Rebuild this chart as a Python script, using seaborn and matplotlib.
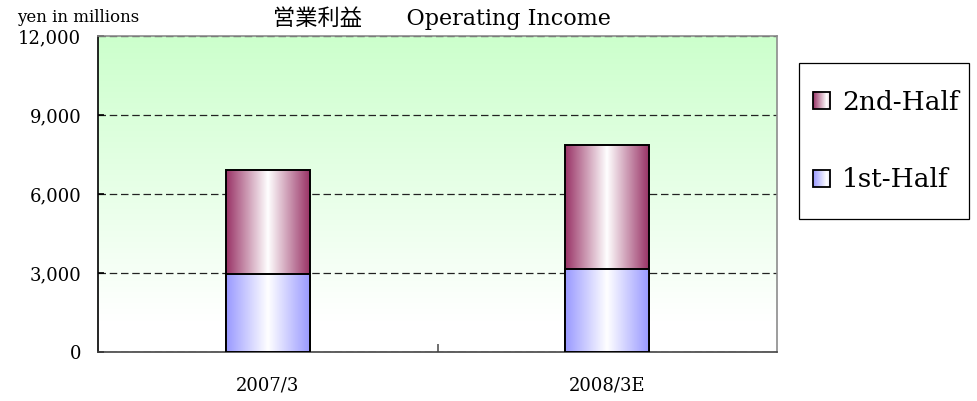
import numpy as np
import pandas as pd
import matplotlib
matplotlib.use("Agg")
import matplotlib.pyplot as plt
import seaborn as sns
from matplotlib.patches import Rectangle
from matplotlib.image import BboxImage
from matplotlib.transforms import Bbox, TransformedBbox
from matplotlib.legend_handler import HandlerBase
from matplotlib.colors import to_rgb
from matplotlib.ticker import FuncFormatter

# data
categories = ["2007/3", "2008/3E"]
first_half = [2950, 3150]
second_half = [3950, 4700]
series_labels = ["1st-Half", "2nd-Half"]
yticks = [0, 3000, 6000, 9000, 12000]

c_first = "#9999ff"
c_second = "#993366"

sns.set_theme(style="white")
plt.rcParams["font.family"] = ["DejaVu Serif", "Noto Sans CJK JP"]
plt.rcParams["text.color"] = "black"
plt.rcParams["xtick.color"] = "black"
plt.rcParams["ytick.color"] = "black"


def grad_row(color, t):
    # dark at the edges, white in the middle (horizontal "from center" fill)
    w = np.abs(2 * t - 1)[:, None]
    c = np.array(to_rgb(color))[None, :]
    return (w * c + (1 - w) * 1.0)[None, :, :]


df = pd.DataFrame({"cat": categories,
                   "first": first_half,
                   "total": np.array(first_half) + np.array(second_half)})

fig = plt.figure(figsize=(9.78, 4.01), dpi=100)
ax = fig.add_axes([98 / 978, 1 - 352 / 401, (777 - 98) / 978, (352 - 36) / 401])

# background gradient: light green at top fading to white
bg_t = np.linspace(0, 1, 256)
bg_w = np.clip(bg_t / 0.9, 0, 1)[:, None]
top = np.array(to_rgb("#ccffcc"))[None, :]
bg = (1 - bg_w) * top + bg_w * 1.0
ax.imshow(bg[:, None, :], extent=(0, 1, 0, 1), transform=ax.transAxes,
          aspect="auto", zorder=-1, interpolation="bilinear")

# stacked bars: totals (2nd half on top) then the 1st half over them
sns.barplot(data=df, x="cat", y="total", color=c_second, width=0.247,
            edgecolor="black", linewidth=1.4, ax=ax, zorder=2)
n_second = len(ax.patches)
sns.barplot(data=df, x="cat", y="first", color=c_first, width=0.247,
            edgecolor="black", linewidth=1.4, ax=ax, zorder=4)

t = np.linspace(0, 1, 200)
for i, p in enumerate(ax.patches):
    col = c_second if i < n_second else c_first
    x0, y0 = p.get_x(), p.get_y()
    x1, y1 = x0 + p.get_width(), y0 + p.get_height()
    im = ax.imshow(grad_row(col, t), extent=(x0, x1, y0, y1), aspect="auto",
                   interpolation="bilinear", zorder=p.get_zorder() - 0.5)
    im.set_clip_path(p)
    p.set_facecolor("none")

ax.set_xlim(-0.5, len(categories) - 0.5)
ax.set_ylim(0, 12000)
ax.set_yticks(yticks)
ax.yaxis.set_major_formatter(FuncFormatter(lambda v, _: f"{int(v):,}"))
ax.set_xlabel("")
ax.set_ylabel("")

ax.set_xticks(range(len(categories)))
ax.set_xticklabels(categories)
ax.set_xticks([0.5], minor=True)
ax.tick_params(axis="x", which="major", length=0, pad=18, labelsize=13, labelcolor="black")
ax.tick_params(axis="x", which="minor", direction="in", length=6, width=1.2, color="#555555",
               bottom=True)
ax.tick_params(axis="y", which="major", direction="in", length=4, width=1.2, color="black",
               left=True, pad=12, labelsize=13, labelcolor="black")

ax.yaxis.grid(True, linestyle=(0, (6, 3)), color="#222222", linewidth=0.9)
ax.xaxis.grid(False)
ax.set_axisbelow(True)

for s in ["top", "right"]:
    ax.spines[s].set_color("#8c8c8c")
    ax.spines[s].set_linewidth(1.2)
ax.spines["left"].set_color("black")
ax.spines["left"].set_linewidth(1.2)
ax.spines["bottom"].set_color("#444444")
ax.spines["bottom"].set_linewidth(1.2)

fig.text(442 / 978, 1 - 6 / 401, "営業利益　　Operating Income", ha="center", va="top",
         fontsize=16, family=["DejaVu Serif", "Noto Sans CJK JP"])
fig.text(17 / 978, 1 - 22 / 401, "yen in millions", ha="left", va="baseline", fontsize=12)


# legend with gradient swatches
class GradHandler(HandlerBase):
    def __init__(self, color):
        super().__init__()
        self.color = color

    def create_artists(self, legend, orig_handle, xdescent, ydescent, width, height,
                       fontsize, trans):
        s = min(width, height)
        x0 = -xdescent
        y0 = -ydescent + (height - s) / 2
        img = BboxImage(TransformedBbox(Bbox.from_bounds(x0, y0, s, s), trans),
                        interpolation="bilinear")
        img.set_data(grad_row(self.color, np.linspace(0, 0.65, 50)))
        rect = Rectangle((x0, y0), s, s, facecolor="none", edgecolor="black",
                         linewidth=1.3, transform=trans)
        return [img, rect]


h_second = Rectangle((0, 0), 1, 1)
h_first = Rectangle((0, 0), 1, 1)
fig.legend([h_second, h_first], [series_labels[1], series_labels[0]],
           handler_map={h_second: GradHandler(c_second), h_first: GradHandler(c_first)},
           loc="center left", bbox_to_anchor=(813 / 978, 1 - 141 / 401),
           bbox_transform=fig.transFigure, frameon=False, borderpad=0, borderaxespad=0,
           handlelength=0.65, handleheight=0.65, handletextpad=0.45, labelspacing=2.0,
           prop={"size": 19})
fig.patches.append(Rectangle((799 / 978, 1 - 219 / 401), 170 / 978, 156 / 401,
                             transform=fig.transFigure, fill=False, edgecolor="black",
                             linewidth=0.9))

fig.savefig("out.png", dpi=100)
